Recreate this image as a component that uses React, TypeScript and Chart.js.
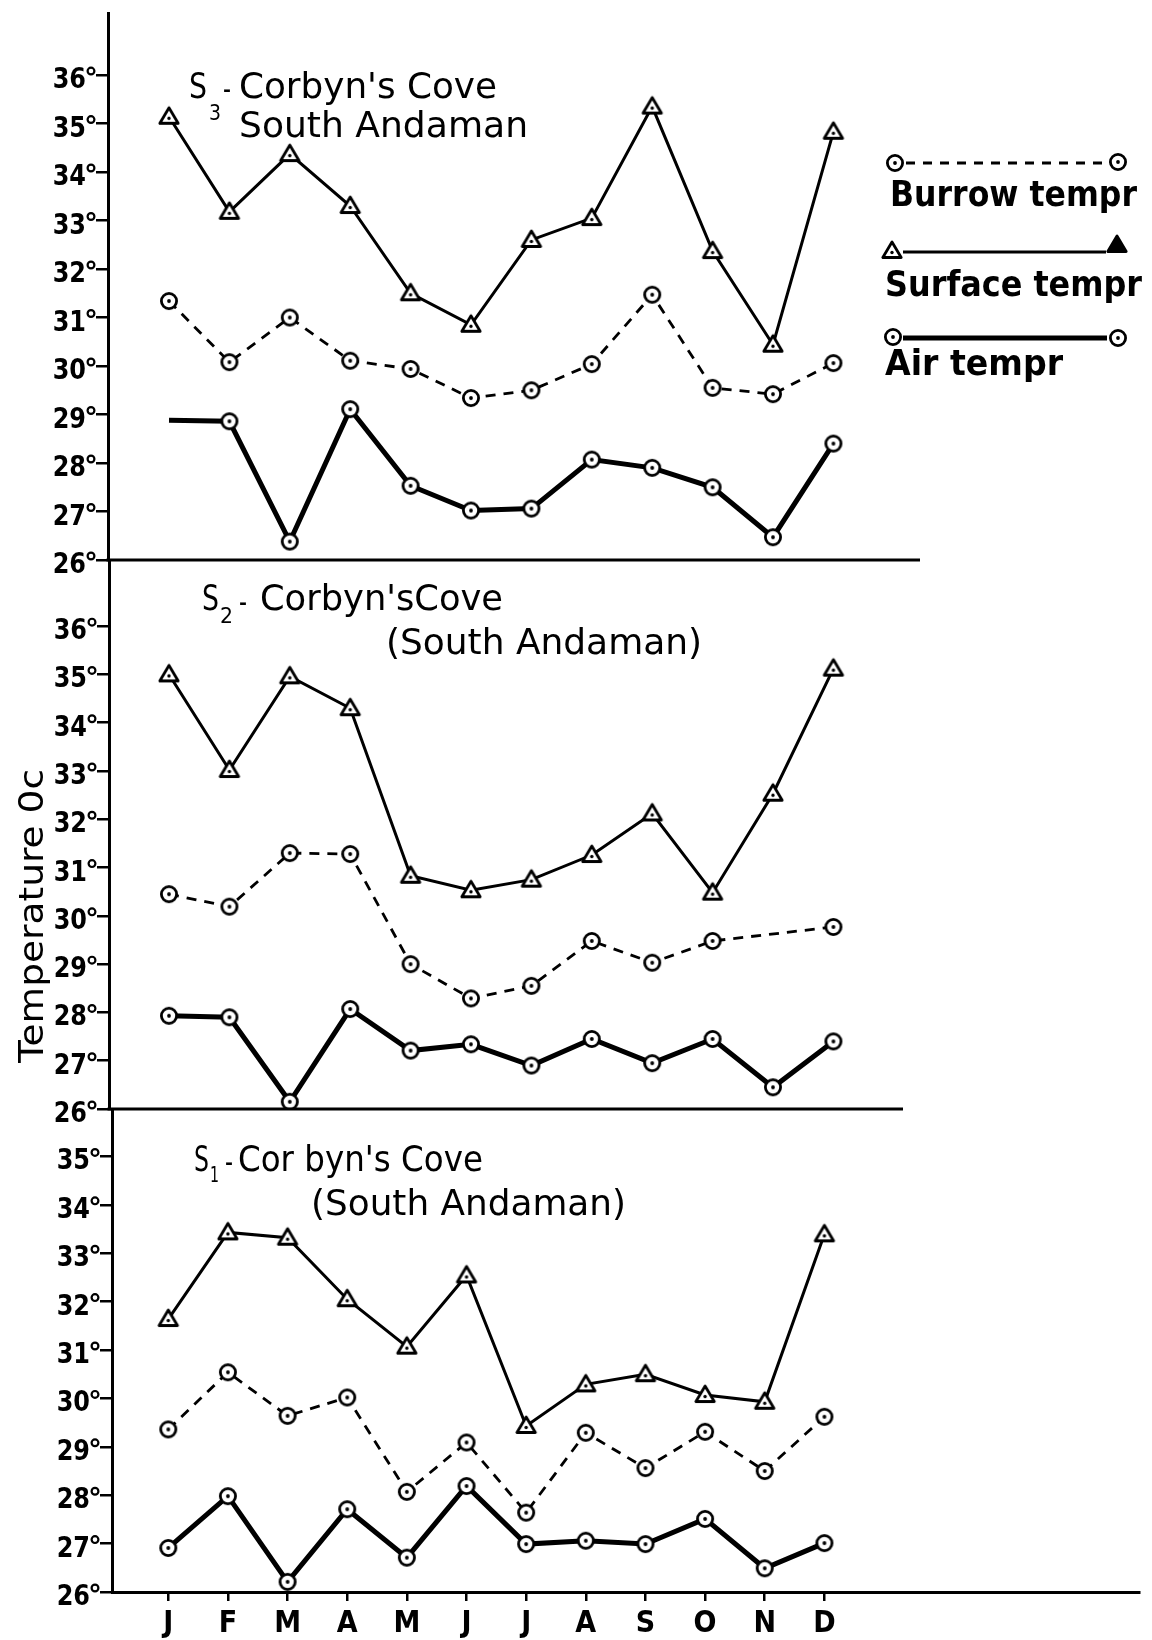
import React, { useEffect, useRef } from "react";
import { Chart, registerables } from "chart.js";

Chart.register(...registerables);

// ---------- data ----------
const MONTHS = ["J", "F", "M", "A", "M", "J", "J", "A", "S", "O", "N", "D"];

// S3 - Corbyn's Cove, South Andaman (top panel)
const S3_SURFACE = [35.14, 33.18, 34.37, 33.3, 31.5, 30.85, 32.6, 33.05, 35.35, 32.37, 30.44, 34.83];
const S3_BURROW = [31.34, 30.08, 31.0, 30.11, 29.94, 29.34, 29.5, 30.04, 31.47, 29.55, 29.42, 30.06];
const S3_AIR = [28.88, 28.86, 26.38, 29.11, 27.53, 27.02, 27.06, 28.07, 27.9, 27.5, 26.47, 28.4];

// S2 - Corbyn's Cove (South Andaman) (middle panel)
const S2_SURFACE = [35.0, 33.02, 34.96, 34.3, 30.83, 30.53, 30.75, 31.26, 32.12, 30.48, 32.53, 35.12];
const S2_BURROW = [30.45, 30.19, 31.3, 31.28, 29.0, 28.29, 28.55, 29.48, 29.03, 29.48, null, 29.77];
const S2_AIR = [27.93, 27.9, 26.15, 28.07, 27.21, 27.34, 26.9, 27.45, 26.95, 27.45, 26.45, 27.4];

// S1 - Corbyn's Cove (South Andaman) (bottom panel)
const S1_SURFACE = [31.64, 33.43, 33.32, 32.05, 31.07, 32.54, 29.43, 30.29, 30.5, 30.07, 29.93, 33.39];
const S1_BURROW = [29.36, 30.54, 29.64, 30.02, 28.07, 29.09, 27.64, 29.29, 28.56, 29.31, 28.5, 29.62];
const S1_AIR = [26.91, 27.98, 26.21, 27.71, 26.71, 28.19, 26.99, 27.06, 26.99, 27.51, 26.49, 27.01];

const SERIES_NAMES = ["Burrow tempr", "Surface tempr", "Air tempr"];
const Y_TITLE = "Temperature 0c";

// ---------- layout constants ----------
const PAGE_W = 1152;
const SPACING = 60.4;
const J_X = 169;
const INK = "#000";
const TEXT_FONT = "'DejaVu Sans', 'Liberation Sans', sans-serif";
const TICK_FONT = "'DejaVu Sans Condensed', 'DejaVu Sans', sans-serif";

function makeCircle(): HTMLCanvasElement {
  const c = document.createElement("canvas");
  c.width = 24;
  c.height = 24;
  const g = c.getContext("2d")!;
  g.beginPath();
  g.arc(12, 12, 7.6, 0, Math.PI * 2);
  g.fillStyle = "#fff";
  g.fill();
  g.lineWidth = 2.8;
  g.strokeStyle = INK;
  g.stroke();
  g.beginPath();
  g.arc(12, 12, 1.9, 0, Math.PI * 2);
  g.fillStyle = INK;
  g.fill();
  return c;
}

function makeTriangle(filled = false): HTMLCanvasElement {
  const c = document.createElement("canvas");
  c.width = 26;
  c.height = 26;
  const g = c.getContext("2d")!;
  g.beginPath();
  g.moveTo(13, 4);
  g.lineTo(3.8, 19.5);
  g.lineTo(22.2, 19.5);
  g.closePath();
  g.fillStyle = filled ? INK : "#fff";
  g.fill();
  g.lineWidth = 2.8;
  g.lineJoin = "round";
  g.strokeStyle = INK;
  g.stroke();
  if (!filled) {
    g.beginPath();
    g.arc(13, 14.5, 1.7, 0, Math.PI * 2);
    g.fillStyle = INK;
    g.fill();
  }
  return c;
}

type TextItem = { t: string; x0: number; x1: number; y: number; size: number };

type PanelSpec = {
  top: number;
  height: number;
  padTop: number;
  padBottom: number;
  left: number;
  right: number;
  lineEnd: number;
  yMax: number;
  tickMax: number;
  showX: boolean;
  surface: (number | null)[];
  burrow: (number | null)[];
  air: (number | null)[];
  hideFirstAir: boolean;
  texts: TextItem[];
  legend: boolean;
  yTitle: boolean;
};

const PANELS: PanelSpec[] = [
  {
    top: -30,
    height: 630,
    padTop: 43,
    padBottom: 40,
    left: 108,
    right: 920,
    lineEnd: 920,
    yMax: 37.28,
    tickMax: 36,
    showX: false,
    surface: S3_SURFACE,
    burrow: S3_BURROW,
    air: S3_AIR,
    hideFirstAir: true,
    legend: true,
    yTitle: false,
    texts: [
      { t: "S", x0: 189, x1: 207, y: 85, size: 36 },
      { t: "3", x0: 209, x1: 221, y: 112, size: 22 },
      { t: "-", x0: 223, x1: 231, y: 88, size: 32 },
      { t: "Corbyn's Cove", x0: 239, x1: 497, y: 85, size: 36 },
      { t: "South Andaman", x0: 239, x1: 528, y: 124, size: 36 },
    ],
  },
  {
    top: 530,
    height: 600,
    padTop: 30,
    padBottom: 21,
    left: 109,
    right: 903,
    lineEnd: 903,
    yMax: 37.37,
    tickMax: 36,
    showX: false,
    surface: S2_SURFACE,
    burrow: S2_BURROW,
    air: S2_AIR,
    hideFirstAir: false,
    legend: false,
    yTitle: true,
    texts: [
      { t: "S", x0: 202, x1: 219, y: 597, size: 36 },
      { t: "2", x0: 220, x1: 233, y: 615, size: 22 },
      { t: "-", x0: 239, x1: 247, y: 601, size: 32 },
      { t: "Corbyn'sCove", x0: 260, x1: 503, y: 597, size: 36 },
      { t: "(South Andaman)", x0: 386, x1: 702, y: 641, size: 36 },
    ],
  },
  {
    top: 1080,
    height: 560,
    padTop: 29,
    padBottom: 0,
    left: 112,
    right: PAGE_W,
    lineEnd: PAGE_W,
    yMax: 35.98,
    tickMax: 35,
    showX: true,
    surface: S1_SURFACE,
    burrow: S1_BURROW,
    air: S1_AIR,
    hideFirstAir: false,
    legend: false,
    yTitle: false,
    texts: [
      { t: "S", x0: 194, x1: 209, y: 1158, size: 36 },
      { t: "1", x0: 210, x1: 219, y: 1174, size: 22 },
      { t: "-", x0: 225, x1: 233, y: 1161, size: 32 },
      { t: "Cor byn's Cove", x0: 238, x1: 483, y: 1158, size: 36 },
      { t: "(South Andaman)", x0: 311, x1: 626, y: 1202, size: 36 },
    ],
  },
];

// draws text so that it spans x0..x1, with its capital letters centred on yc
function fitText(
  ctx: CanvasRenderingContext2D,
  text: string,
  x0: number,
  x1: number,
  yc: number,
  size: number,
  weight = "normal"
) {
  ctx.save();
  ctx.font = `${weight} ${size}px ${TEXT_FONT}`;
  const w = ctx.measureText(text).width;
  ctx.translate(x0, yc + size * 0.365);
  ctx.scale((x1 - x0) / w, 1);
  ctx.fillStyle = INK;
  ctx.textAlign = "left";
  ctx.textBaseline = "alphabetic";
  ctx.fillText(text, 0, 0);
  ctx.restore();
}

function buildChart(canvas: HTMLCanvasElement, p: PanelSpec) {
  const circle = makeCircle();
  const tri = makeTriangle(false);
  const triFilled = makeTriangle(true);
  const xMin = -(J_X - p.left) / SPACING;
  const xMax = xMin + (p.right - p.left) / SPACING;
  const toXY = (arr: (number | null)[]) => arr.map((v, i) => ({ x: i, y: v }));

  const decor = {
    id: "decor" + p.top,
    afterDraw(chart: any) {
      const ctx: CanvasRenderingContext2D = chart.ctx;
      const a = chart.chartArea;
      ctx.save();
      ctx.strokeStyle = INK;
      ctx.fillStyle = INK;
      // horizontal base line of panel
      if (!p.showX) {
        ctx.beginPath();
        ctx.moveTo(a.left - 1.5, a.bottom);
        ctx.lineTo(p.lineEnd, a.bottom);
        ctx.lineWidth = 3;
        ctx.stroke();
      }
      // y tick labels (digits + raised degree ring)
      const ys = chart.scales.y;
      ctx.font = `bold 28px ${TICK_FONT}`;
      ctx.textAlign = "right";
      ctx.textBaseline = "alphabetic";
      for (const t of ys.ticks) {
        const v = t.value;
        if (!Number.isInteger(v) || v > p.tickMax) continue;
        const y = ys.getPixelForValue(v);
        ctx.save();
        ctx.translate(a.left - 22, y + 13);
        ctx.scale(0.95, 1);
        ctx.fillText(String(v), 0, 0);
        ctx.restore();
        ctx.beginPath();
        ctx.arc(a.left - 17, y - 4, 3.4, 0, Math.PI * 2);
        ctx.lineWidth = 2.2;
        ctx.stroke();
      }
      // titles
      for (const t of p.texts) {
        fitText(ctx, t.t, t.x0, t.x1, t.y - p.top, t.size);
      }
      // y title
      if (p.yTitle) {
        ctx.save();
        ctx.translate(31, 916 - p.top);
        ctx.rotate(-Math.PI / 2);
        fitText(ctx, Y_TITLE, -147, 147, 0, 34);
        ctx.restore();
      }
      // legend
      if (p.legend) {
        const y0 = -p.top;
        // burrow
        ctx.beginPath();
        ctx.setLineDash([9, 8]);
        ctx.moveTo(906, y0 + 163);
        ctx.lineTo(1108, y0 + 163);
        ctx.lineWidth = 3;
        ctx.stroke();
        ctx.setLineDash([]);
        ctx.drawImage(circle, 895 - 12, y0 + 163 - 12);
        ctx.drawImage(circle, 1118 - 12, y0 + 162 - 12);
        fitText(ctx, SERIES_NAMES[0], 890, 1137, y0 + 193, 35, "bold");
        // surface
        ctx.beginPath();
        ctx.moveTo(903, y0 + 252);
        ctx.lineTo(1106, y0 + 252);
        ctx.lineWidth = 3.2;
        ctx.stroke();
        ctx.drawImage(tri, 892 - 13, y0 + 251 - 13);
        ctx.drawImage(triFilled, 1117 - 13, y0 + 245 - 13);
        fitText(ctx, SERIES_NAMES[1], 885, 1142, y0 + 283, 35, "bold");
        // air
        ctx.beginPath();
        ctx.moveTo(903, y0 + 338);
        ctx.lineTo(1107, y0 + 338);
        ctx.lineWidth = 5;
        ctx.stroke();
        ctx.drawImage(circle, 893 - 12, y0 + 337 - 12);
        ctx.drawImage(circle, 1118 - 12, y0 + 338 - 12);
        fitText(ctx, SERIES_NAMES[2], 885, 1063, y0 + 362, 35, "bold");
      }
      ctx.restore();
    },
  };

  return new Chart(canvas, {
    type: "line",
    data: {
      datasets: [
        {
          label: SERIES_NAMES[1],
          data: toXY(p.surface) as any,
          borderColor: INK,
          borderWidth: 3,
          pointStyle: tri as any,
          pointRadius: 8,
          tension: 0,
        },
        {
          label: SERIES_NAMES[0],
          data: toXY(p.burrow) as any,
          borderColor: INK,
          borderWidth: 2.8,
          borderDash: [10, 8],
          pointStyle: circle as any,
          pointRadius: 8,
          spanGaps: true,
          tension: 0,
        },
        {
          label: SERIES_NAMES[2],
          data: toXY(p.air) as any,
          borderColor: INK,
          borderWidth: 5,
          pointStyle: circle as any,
          pointRadius: ((c: any) => (p.hideFirstAir && c.dataIndex === 0 ? 0 : 8)) as any,
          tension: 0,
        },
      ],
    },
    options: {
      animation: false,
      responsive: false,
      devicePixelRatio: 1,
      events: [],
      layout: {
        padding: { top: p.padTop, bottom: p.padBottom, left: 0, right: PAGE_W - p.right },
      },
      plugins: {
        legend: { display: false },
        tooltip: { enabled: false },
        title: { display: false },
      },
      scales: {
        x: {
          type: "linear",
          display: p.showX,
          min: xMin,
          max: xMax,
          afterBuildTicks: (axis: any) => {
            axis.ticks = MONTHS.map((_, i) => ({ value: i }));
          },
          afterFit: (axis: any) => {
            if (p.showX) axis.height = 48;
          },
          ticks: {
            autoSkip: false,
            maxRotation: 0,
            minRotation: 0,
            padding: 5,
            color: INK,
            font: { family: TICK_FONT, size: 30, weight: "bold" },
            callback: (v: any) => MONTHS[Math.round(Number(v))] ?? "",
          },
          grid: {
            drawOnChartArea: false,
            drawTicks: true,
            tickLength: 9,
            color: INK,
            lineWidth: 2.5,
          },
          border: { display: true, color: INK, width: 3 },
        },
        y: {
          type: "linear",
          min: 26,
          max: p.yMax,
          afterFit: (axis: any) => {
            axis.width = p.left;
          },
          ticks: {
            stepSize: 1,
            includeBounds: false,
            padding: 2,
            color: INK,
            font: { family: TICK_FONT, size: 28, weight: "bold" },
            // labels are painted by the decor plugin; keep the tick marks
            callback: (v: any) => {
              const n = Number(v);
              if (!Number.isInteger(n) || n > p.tickMax) return null as any;
              return "";
            },
          },
          grid: {
            drawOnChartArea: false,
            drawTicks: true,
            tickLength: 12,
            color: INK,
            lineWidth: 2.5,
          },
          border: { display: true, color: INK, width: 3 },
        },
      },
    },
    plugins: [decor],
  } as any);
}

function PanelChart({ p }: { p: PanelSpec }) {
  const ref = useRef<HTMLCanvasElement>(null);
  useEffect(() => {
    const chart = buildChart(ref.current!, p);
    return () => chart.destroy();
  }, [p]);
  return (
    <canvas
      ref={ref}
      width={PAGE_W}
      height={p.height}
      style={{ position: "absolute", left: 0, top: p.top, width: PAGE_W, height: p.height }}
    />
  );
}

export default function App() {
  return (
    <div
      style={{
        position: "absolute",
        left: 0,
        top: 0,
        width: PAGE_W,
        height: 1640,
        background: "#fff",
        overflow: "hidden",
      }}
    >
      {PANELS.map((p, i) => (
        <PanelChart key={i} p={p} />
      ))}
    </div>
  );
}
